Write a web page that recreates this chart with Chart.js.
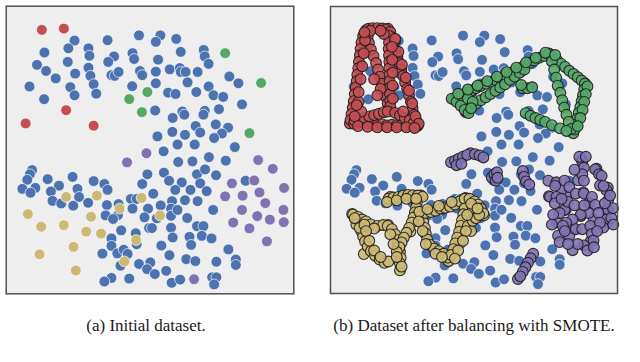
<!DOCTYPE html>
<html><head><meta charset="utf-8">
<script src="https://cdn.jsdelivr.net/npm/chart.js@4.4.0/dist/chart.umd.min.js"></script>
<style>
body{margin:0;background:#fff;width:640px;height:362px;overflow:hidden;position:relative;font-family:'Liberation Serif','DejaVu Serif',serif;}
#c1{position:absolute;left:0;top:0}
#c2{position:absolute;left:324px;top:0}
.cap{position:absolute;top:316px;font-size:17px;color:#1a1a1a;white-space:nowrap;transform:translateX(-50%)}
</style></head><body>
<canvas id="c1" width="300" height="300"></canvas>
<canvas id="c2" width="300" height="300"></canvas>
<div class="cap" style="left:146px">(a) Initial dataset.</div>
<div class="cap" style="left:474px">(b) Dataset after balancing with SMOTE.</div>
<script>
// Feature-space coordinates (arbitrary units, y grows downward)
const majority = [[415,95],[481,95],[467,115],[530,106],[318,110],[216,111],[197,135],[259,135],[123,148],[262,158],
[544,146],[615,140],[618,160],[630,183],[395,150],[400,168],[474,170],[338,160],[320,177],[195,177],
[100,186],[128,205],[259,195],[218,213],[158,228],[265,220],[330,218],[340,220],[352,208],[418,205],
[425,218],[467,207],[510,200],[541,196],[544,208],[559,208],[596,208],[694,222],[722,243],[77,253],
[203,255],[216,280],[275,246],[283,275],[394,252],[467,243],[565,240],[630,253],[505,272],[528,276],
[592,270],[645,280],[675,285],[733,308],[122,292],[465,327],[519,350],[549,330],[555,340],[618,328],
[614,340],[662,323],[590,375],[604,395],[652,370],[690,380],[671,398],[518,393],[557,402],[472,407],
[534,432],[587,432],[647,412],[711,440],[491,453],[631,471],[536,486],[580,484],[683,482],
[441,524],[492,519],[594,524],[619,509],[604,552],[653,527],[744,544],[85,511],[78,524],[70,541],
[95,566],[55,569],[80,581],[133,539],[210,532],[168,559],[143,577],[225,569],[148,606],[175,614],
[212,621],[230,594],[258,612],[275,545],[308,554],[318,572],[316,619],[352,616],[350,650],[312,651],
[335,662],[390,600],[408,600],[425,554],[395,630],[443,630],[459,584],[508,544],[547,549],[527,572],
[574,572],[624,576],[557,604],[596,607],[517,607],[514,630],[514,652],[534,634],[482,620],[432,657],
[470,660],[564,659],[644,634],[360,697],[330,722],[330,745],[405,706],[408,740],[446,690],[455,690],
[514,689],[519,719],[571,717],[576,742],[594,684],[614,684],[609,714],[639,722],[484,744],[509,774],
[561,786],[589,792],[654,794],[691,756],[714,787],[714,804],[302,769],[348,768],[368,757],[380,770],
[358,806],[415,801],[450,796],[440,817],[464,832],[499,822],[385,846],[330,844],[308,855],[516,859],
[542,849],[641,842],[654,842],[647,864]];

const minorityRed = [[115,78],[183,74],[190,326],[65,367],[275,374]];
const minorityGreen = [[681,150],[792,242],[441,270],[385,292],[424,332],[756,397]];
const minorityYellow = [[190,594],[285,590],[423,597],[355,630],[72,647],[267,655],[480,651],[113,686],
[183,681],[252,701],[298,707],[406,727],[213,748],[108,771],[370,793],[220,821]];
const minorityPurple = [[438,459],[378,487],[783,480],[828,507],[702,552],[771,543],[863,566],[681,592],
[735,590],[787,580],[805,613],[733,634],[780,653],[861,634],[819,664],[862,672],[706,673],[756,691],
[810,731],[585,848]];

// SMOTE-generated samples
const smoteRed = [[122,74],[135,72],[150,72],[165,73],[176,76],[190,84],
[106,96],[101,116],[98,136],[96,156],[93,176],[91,196],[88,216],[86,236],[83,256],[80,276],[77,298],[74,318],[70,338],[67,356],
[195,100],[200,120],[206,140],[212,160],[218,180],[224,200],[230,220],[236,240],[242,260],[248,280],[254,300],[259,320],[264,340],[270,358],
[78,368],[92,364],[106,362],[120,368],[135,366],[150,372],[165,370],[180,373],[195,371],[210,372],[225,371],[240,373],[255,372],[268,377],
[120,98],[124,118],[130,138],[138,158],[146,180],[152,200],[158,222],[164,244],[170,264],[176,284],[182,304],
[186,96],[186,116],[185,136],[186,156],[187,176],[187,196],[188,216],[188,236],[189,256],[189,276],[190,296],[190,314],
[80,358],[95,354],[110,350],[125,345],[140,341],[155,337],[170,332],[182,330],
[205,334],[220,342],[235,350],[250,357],[262,366],
[160,260],[150,280],[140,230],[205,110],[170,90],[100,330],[92,300],[230,330],
[112,110],[108,150],[103,190],[98,230],[92,270],[86,310],[80,345],
[205,105],[215,145],[226,185],[238,225],[248,265],[258,305],[268,345],[278,368],
[90,375],[120,377],[150,379],[180,379],[210,379],[240,379],[265,381],
[195,130],[196,170],[197,210],[197,250],[198,290],[128,80],[160,80],[110,85]];
const smoteGreen = [[395,285],[410,278],[425,272],[440,266],[455,258],[470,251],[485,244],[500,238],[515,232],[530,226],
[545,219],[560,212],[575,204],[590,196],[605,188],[620,180],[635,172],[650,164],[665,158],[680,152],
[440,318],[455,306],[470,295],[485,286],[500,276],[515,266],[530,256],[545,246],[560,232],[575,222],[590,210],[605,200],
[380,290],[395,300],[408,312],[420,325],[432,335],[410,280],[430,290],[445,300],[440,320],
[692,160],[705,170],[718,182],[731,192],[744,204],[757,214],[770,224],[782,234],[792,244],
[790,262],[786,280],[782,298],[778,316],[773,334],[769,352],[764,370],[760,386],
[690,175],[697,200],[703,225],[708,250],[716,272],[722,295],[728,318],[735,340],[742,362],[750,384],
[599,258],[614,258],[629,255],[595,248],
[609,335],[624,343],[639,350],[654,356],[669,362],[690,372],[715,382],[735,390],
[400,275],[430,262],[460,250],[490,236],[520,222],[550,208],[580,194],[610,178],[640,164],[670,148],[700,155],
[800,252],[795,276],[790,300],[785,325],[778,350],[770,375]];
const smoteYellow = [[185,599],[200,596],[215,594],[230,590],[245,588],[260,589],[275,590],[290,594],
[75,649],[90,656],[103,664],[115,670],[130,679],[150,684],[168,681],[182,684],[195,694],[205,710],[212,728],[216,746],[220,764],[222,782],[220,800],
[100,700],[106,716],[112,732],[120,748],[130,762],[143,776],[157,788],[172,798],[184,794],[85,680],[95,690],
[272,612],[270,626],[266,642],[262,658],[256,674],[248,690],[240,705],[232,720],[225,735],[218,750],[210,764],
[285,654],[292,672],[297,690],[300,708],[304,726],[312,742],[325,754],[340,762],[355,770],[368,782],
[300,644],[315,641],[330,637],[345,630],[360,628],[375,624],[390,618],[405,608],[420,600],[435,600],[450,608],[462,618],[470,630],[478,645],
[420,630],[416,648],[412,666],[408,684],[403,702],[397,720],[391,738],[385,756],[378,774],
[430,684],[440,700],[450,644],[445,668],[455,660],[465,650],[445,628],
[180,610],[210,605],[240,600],[270,600],[80,660],[110,680],[140,692],[190,710],[200,740],[210,780],[225,810],
[115,700],[125,730],[140,760],[160,780],[280,640],[278,670],[290,700],[300,740],[330,770],[350,780],
[305,632],[340,622],[380,610],[440,615],[460,630],[428,650],[424,700],[415,730],[400,760],[390,785]];
const smotePurple = [[390,482],[402,476],[415,470],[428,464],[395,496],[410,492],[452,462],[466,466],[478,472],
[504,534],[512,524],[520,518],[516,544],[522,535],
[600,514],[604,532],[610,546],[620,556],
[632,770],[624,784],[616,798],[608,812],[600,826],[592,840],
[784,484],[789,504],[784,524],[789,544],[824,509],[836,524],[844,529],[839,559],[859,574],[864,604],[864,634],[859,664],[849,689],
[679,544],[704,549],[729,544],[719,574],[744,564],[764,584],[789,584],[814,594],[824,619],[804,644],[779,649],[754,664],[734,674],
[729,634],[739,609],[684,594],[704,594],[699,614],[714,644],[724,684],[709,714],[714,734],[744,714],[764,694],[784,694],[809,684],
[814,709],[819,729],[789,744],[754,759],[834,644],[839,674],[874,659],[879,629],[854,614],[694,649],
[760,510],[775,470],[795,470],[700,560],[720,600],[760,620],[790,620],[850,560],[870,590],[880,680],[830,700],[800,760],
[770,740],[730,700],[690,680],[740,740],[820,750]];

const COLORS = {blue:'#4C72B0', red:'#C44E52', green:'#55A868', yellow:'#CCB974', purple:'#8172B2'};
function rgba(hex,a){const n=parseInt(hex.slice(1),16);return `rgba(${n>>16},${(n>>8)&255},${n&255},${a})`;}
const toPts = arr => arr.map(p => ({x:p[0], y:p[1]}));

const framePlugin = {
  id:'frame',
  beforeDraw(chart){
    const {ctx, chartArea:a} = chart;
    ctx.save(); ctx.fillStyle='#eeeeee'; ctx.fillRect(a.left,a.top,a.right-a.left,a.bottom-a.top); ctx.restore();
  },
  afterDraw(chart){
    const {ctx, chartArea:a} = chart;
    ctx.save(); ctx.strokeStyle='#505050'; ctx.lineWidth=1.5;
    ctx.strokeRect(a.left,a.top,a.right-a.left,a.bottom-a.top); ctx.restore();
  }
};

function ds(data, color, edge, edgeW, alpha){
  return {data:toPts(data), pointRadius:5.4, pointHoverRadius:5.4,
    pointBackgroundColor:rgba(color,alpha), pointBorderColor:edge, pointBorderWidth:edgeW, showLine:false, clip:false};
}
function opts(pad){
  return {responsive:false, animation:false, events:[],
    layout:{padding:pad},
    plugins:{legend:{display:false}, tooltip:{enabled:false}},
    scales:{x:{type:'linear',min:5,max:893,display:false},
            y:{type:'linear',min:5,max:893,reverse:true,display:false}}};
}
const white='rgba(255,255,255,0.85)', dark='rgba(30,30,30,0.9)';

new Chart(document.getElementById('c1'), {type:'scatter', plugins:[framePlugin],
  data:{datasets:[
    ds(minorityRed, COLORS.red, white, 0.8, 1),
    ds(minorityGreen, COLORS.green, white, 0.8, 1),
    ds(minorityYellow, COLORS.yellow, white, 0.8, 1),
    ds(minorityPurple, COLORS.purple, white, 0.8, 1),
    ds(majority, COLORS.blue, white, 0.8, 1)
  ]},
  options:opts({left:2,top:2,right:2,bottom:2})});

new Chart(document.getElementById('c2'), {type:'scatter', plugins:[framePlugin],
  data:{datasets:[
    ds(minorityRed.concat(smoteRed), COLORS.red, dark, 1.1, 0.9),
    ds(minorityGreen.concat(smoteGreen), COLORS.green, dark, 1.1, 0.9),
    ds(minorityYellow.concat(smoteYellow), COLORS.yellow, dark, 1.1, 0.9),
    ds(minorityPurple.concat(smotePurple), COLORS.purple, dark, 1.1, 0.9),
    ds(majority, COLORS.blue, white, 0.8, 1)
  ]},
  options:opts({left:2,top:2,right:3,bottom:2})});
</script>
</body></html>
